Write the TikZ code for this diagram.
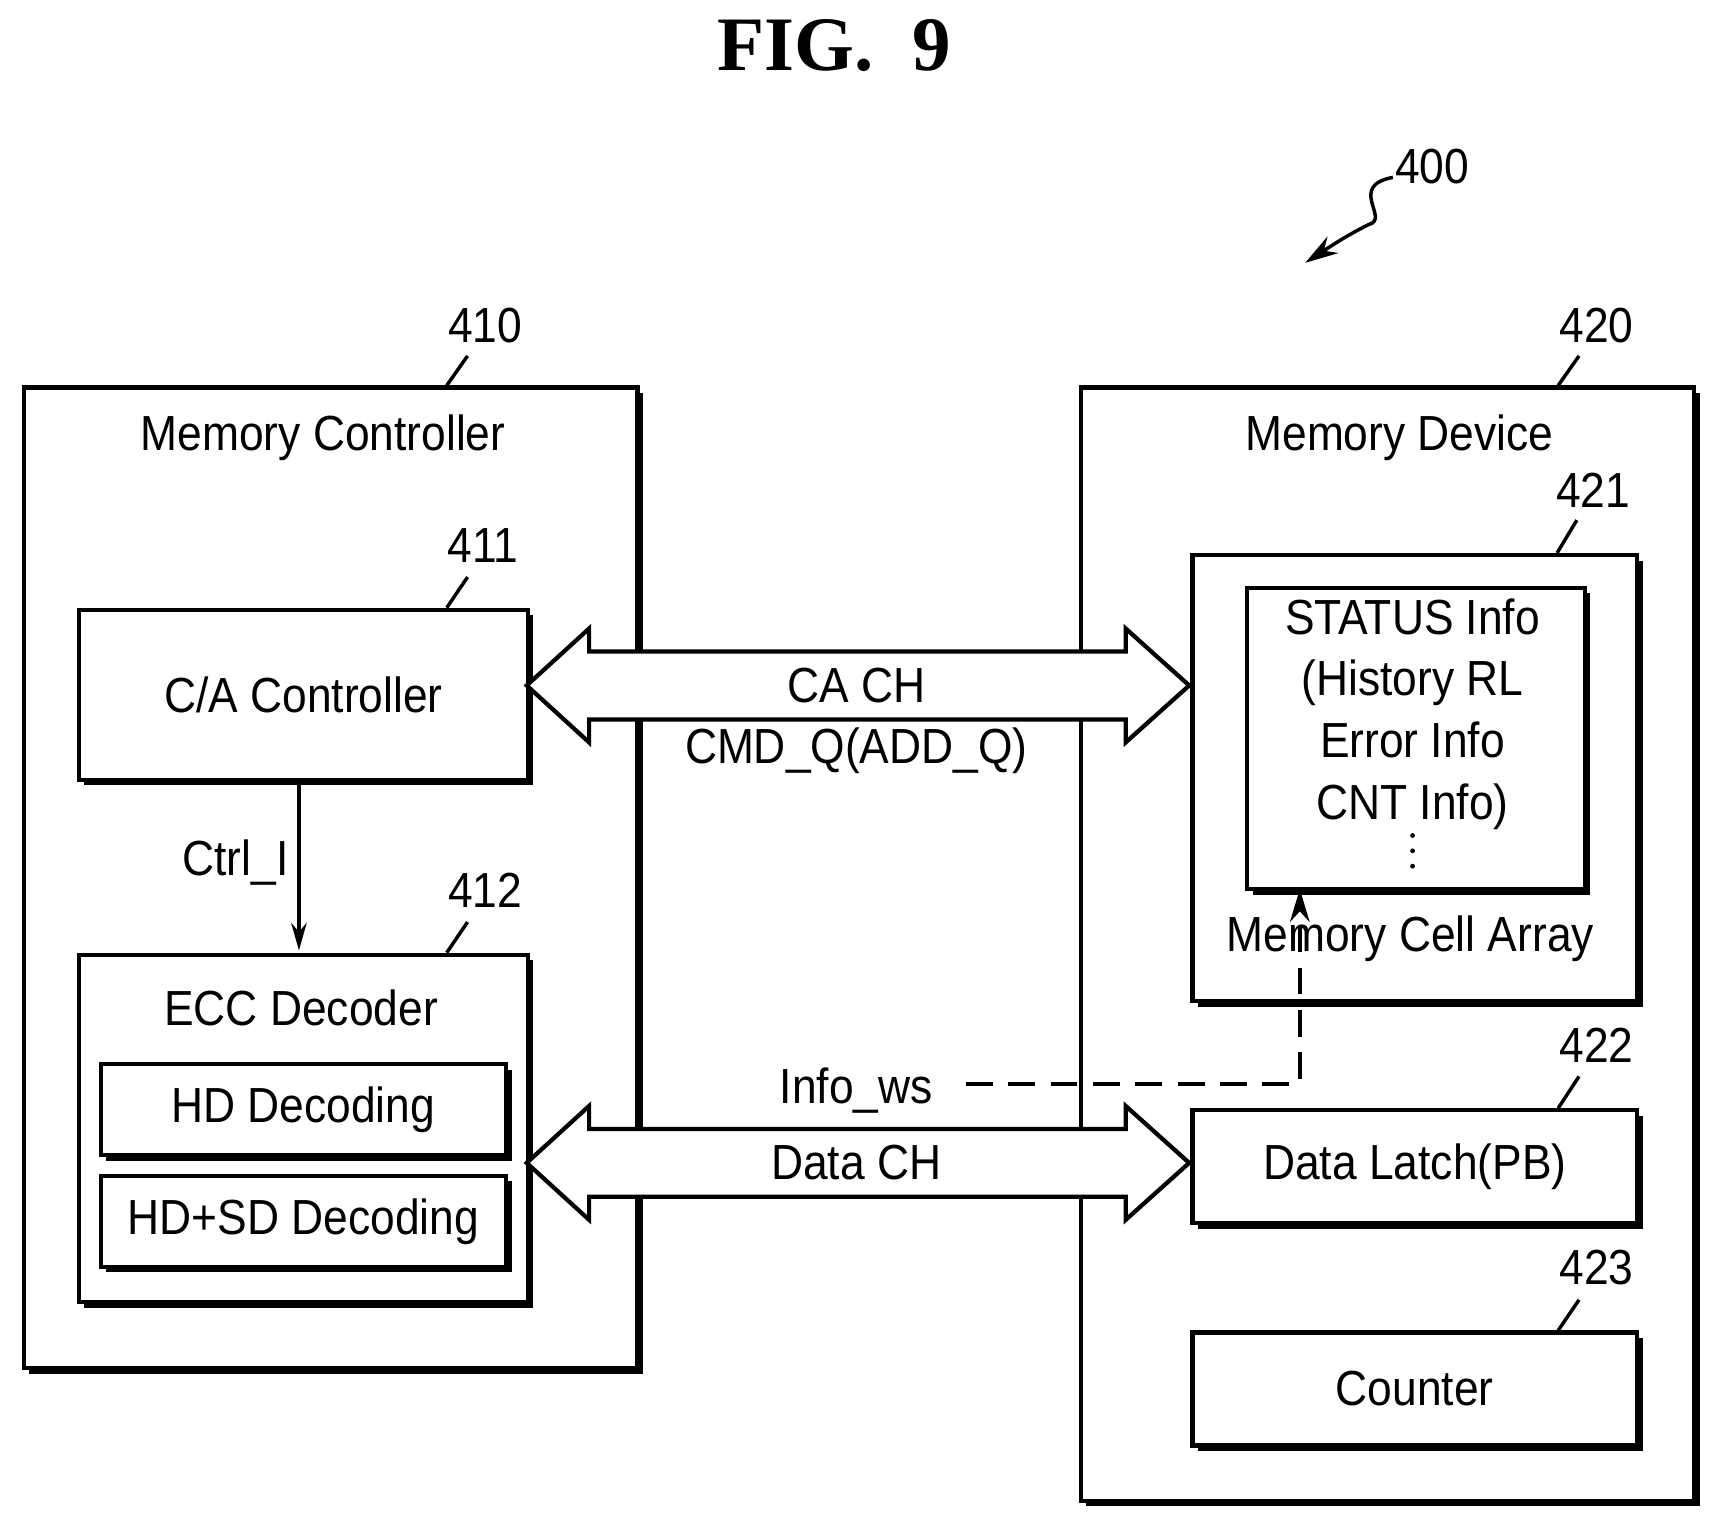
\documentclass[tikz,border=0pt]{standalone}
\usepackage{fontspec}
\setmainfont[FakeStretch=0.9]{Liberation Sans}
\newfontfamily\titlefont{Liberation Serif}
\usetikzlibrary{shadows,arrows.meta}
\begin{document}
\begin{tikzpicture}[x=0.01cm,y=-0.01cm,
  box/.style={draw,line width=1.1pt,fill=white,anchor=north west,inner sep=0pt,
    drop shadow={shadow xshift=0.05cm,shadow yshift=-0.05cm,fill=black,opacity=1}},
  txt/.style={font=\fontsize{12.8}{15}\selectfont,inner sep=0pt},
  num/.style={font=\fontsize{12.8}{15}\selectfont,inner sep=0pt},
  lead/.style={line width=0.9pt},
  dbl/.style={draw,line width=1.1pt,fill=white}]
\useasboundingbox (0,0) rectangle (1568,1392);
\node[font=\titlefont\bfseries\fontsize{20}{24}\selectfont] (title) at (762,42) {FIG.\ \ 9};
% 400
\node[num] (n400) at (1308,152) {400};
\draw[lead,-{Stealth[length=0.3cm,width=0.18cm]}] (1272,162) .. controls (1230,170) and (1270,200) .. (1250,205) .. controls (1230,215) and (1215,225) .. (1192,240);
% outer boxes
\node[box,minimum width=5.6cm,minimum height=8.95cm] (mc) at (20,352) {};
\node[box,minimum width=5.6cm,minimum height=10.16cm] (md) at (985,352) {};
\node[txt] (mct) at (295,400) {Memory Controller};
\node[txt] (mdt) at (1278,400) {Memory Device};
\node[num] (n410) at (443,297) {410}; \draw[lead] (427,325) -- (408,352);
\node[num] (n420) at (1458,297) {420}; \draw[lead] (1442,325) -- (1423,352);
% controller parts
\node[box,minimum width=4.1cm,minimum height=1.55cm] (ca) at (70,555) {};
\node[txt] at (ca.center) {C/A Controller};
\node[num] (n411) at (441,498) {411}; \draw[lead] (427,527) -- (408,555);
\node[box,minimum width=4.1cm,minimum height=3.17cm] (ecc) at (70,870) {};
\node[txt] (ecct) at (275,920) {ECC Decoder};
\node[num] (n412) at (443,813) {412}; \draw[lead] (427,842) -- (408,870);
\node[box,minimum width=3.7cm,minimum height=0.83cm] (hd) at (90,970) {};
\node[txt] at (hd.center) {HD Decoding};
\node[box,minimum width=3.7cm,minimum height=0.83cm] (hdsd) at (90,1072) {};
\node[txt] at (hdsd.center) {HD+SD Decoding};
\draw[line width=1.1pt,-{Stealth[length=0.25cm,width=0.14cm]}] (ca.south -| 273,0) -- (273,868) coordinate (ecctop);
\node[txt] (ctrl) at (215,788) {Ctrl\_I};
% device parts
\node[box,minimum width=4.06cm,minimum height=4.07cm] (mca) at (1087,505) {};
\node[num] (n421) at (1455,448) {421}; \draw[lead] (1440,475) -- (1422,505);
\node[box,minimum width=3.08cm,minimum height=2.75cm] (st) at (1137,535) {};
\node[txt,align=center] (stt) at (1290,652) {STATUS Info\\[1pt](History RL\\[1pt]Error Info\\[1pt]CNT Info)};
\foreach \yy in {763,777,791} \fill (1290,\yy) circle (0.022cm);
\node[txt] (mcat) at (1288,857) {Memory Cell Array};
\node[box,minimum width=4.06cm,minimum height=1.03cm] (dl) at (1087,1012) {};
\node[txt] at (dl.center) {Data Latch(PB)};
\node[num] (n422) at (1458,955) {422}; \draw[lead] (1442,983) -- (1423,1012);
\node[box,minimum width=4.06cm,minimum height=1.03cm] (cnt) at (1087,1215) {};
\node[txt] at (cnt.center) {Counter};
\node[num] (n423) at (1458,1158) {423}; \draw[lead] (1442,1187) -- (1423,1215);
% channels
\draw[dbl] (481,626) -- (538,574) -- (538,595) -- (1028,595) -- (1028,574) -- (1086,626) -- (1028,678) -- (1028,657) -- (538,657) -- (538,678) -- cycle;
\node[txt] (cach) at (782,626) {CA CH};
\node[txt] (cmd) at (782,686) {CMD\_Q(ADD\_Q)};
\draw[dbl] (481,1062) -- (538,1010) -- (538,1031) -- (1028,1031) -- (1028,1010) -- (1086,1062) -- (1028,1114) -- (1028,1093) -- (538,1093) -- (538,1114) -- cycle;
\node[txt] (dch) at (782,1062) {Data CH};
\node[txt] (iws) at (782,996) {Info\_ws};
\draw[line width=0.9pt,dash pattern=on 7pt off 4pt,-{Stealth[length=0.3cm,width=0.18cm]}] (882,990) -- (1187,990) -- (1187,812);
\end{tikzpicture}
\end{document}
